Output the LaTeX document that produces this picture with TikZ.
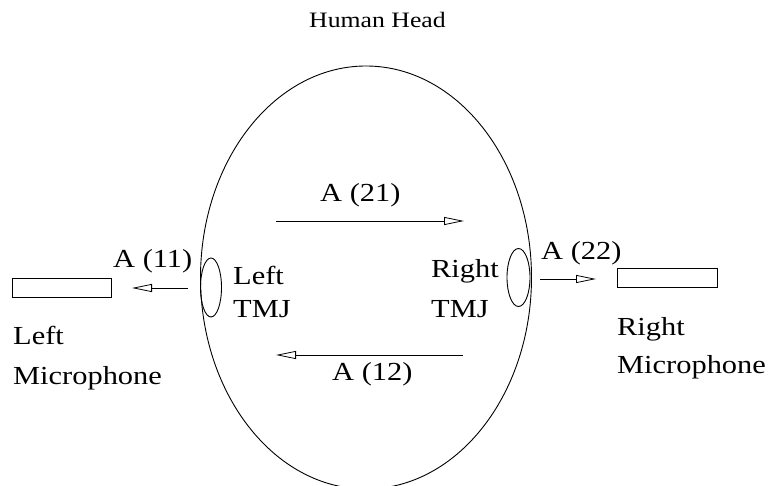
\documentclass[tikz,border=0pt]{standalone}
\usepackage{fontspec}
\setmainfont{Liberation Serif}
\usetikzlibrary{arrows.meta,shapes.geometric}
\newcommand{\wtxt}[1]{\scalebox{1.17}[1]{#1}}
\tikzset{
  lbl/.style={anchor=base west, inner sep=0pt, font=\fontsize{26}{30}\selectfont},
  ttl/.style={anchor=base west, inner sep=0pt, font=\fontsize{22}{26}\selectfont},
  arr/.style={line width=0.8pt, -{Triangle[open,length=20pt,width=8pt]}},
  tmj/.style={draw, ellipse, line width=0.9pt, inner sep=0pt},
  mic/.style={draw, rectangle, line width=0.8pt, inner sep=0pt, minimum height=19pt},
}
\begin{document}
\begin{tikzpicture}[x=1pt,y=-1pt]
\useasboundingbox (0,0) rectangle (769,486);
% head
\node[draw, ellipse, line width=0.9pt, inner sep=0pt, minimum width=331pt, minimum height=423pt] (head) at (366,277.5) {};
\node[ttl] (title) at (309,28) {\wtxt{Human Head}};
% TMJs
\node[tmj, minimum width=21pt, minimum height=59pt] (ltmj) at (211,287.5) {};
\node[tmj, minimum width=23pt, minimum height=58pt] (rtmj) at (518.5,277.5) {};
% microphones
\node[mic, minimum width=99pt] (lmic) at (61.5,287.5) {};
\node[mic, minimum width=100pt] (rmic) at (667,277.5) {};
% arrows
\coordinate (a11s) at (188,288); \coordinate (a11e) at (132,288);
\draw[arr] (a11s) -- (a11e);
\coordinate (a22s) at (540,279); \coordinate (a22e) at (596,279);
\draw[arr] (a22s) -- (a22e);
\coordinate (a21s) at (276,221); \coordinate (a21e) at (464,221);
\draw[arr] (a21s) -- (a21e);
\coordinate (a12s) at (463,355); \coordinate (a12e) at (276,355);
\draw[arr] (a12s) -- (a12e);
% labels
\node[lbl] (l11) at (113,268) {\wtxt{A (11)}};
\node[lbl] (l22) at (541,260) {\wtxt{A (22)}};
\node[lbl] (l21) at (320,202) {\wtxt{A (21)}};
\node[lbl] (l12) at (332,381) {\wtxt{A (12)}};
\node[lbl] (ltmj1) at (233,285) {\wtxt{Left}};
\node[lbl] (ltmj2) at (233,318) {\wtxt{TMJ}};
\node[lbl] (rtmj1) at (431,278) {\wtxt{Right}};
\node[lbl] (rtmj2) at (431,318) {\wtxt{TMJ}};
\node[lbl] (lmic1) at (13,345) {\wtxt{Left}};
\node[lbl] (lmic2) at (13,385) {\wtxt{Microphone}};
\node[lbl] (rmic1) at (617,336) {\wtxt{Right}};
\node[lbl] (rmic2) at (617,374) {\wtxt{Microphone}};
\end{tikzpicture}
\end{document}
